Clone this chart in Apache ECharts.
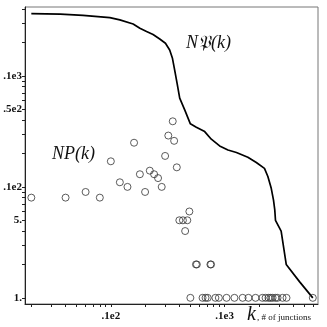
<!DOCTYPE html>
<html>
<head>
<meta charset="utf-8">
<script src="https://cdn.jsdelivr.net/npm/echarts@6/dist/echarts.min.js"></script>
<style>
  html, body { margin: 0; padding: 0; background: #fff; }
  #chart { width: 327px; height: 327px; }
</style>
</head>
<body>
<div id="chart"></div>
<script>
// N(k) curve
const lineK = [2, 3.6, 5.7, 9.8, 12, 15.7, 18, 20.6, 23.5, 26.9, 30.2, 32.9, 34.8, 36.4, 38.2, 40.3, 44.6, 46.1, 50, 56.4, 66.8, 76.4, 90.4, 107, 127, 160, 190, 224, 240, 257, 269, 276, 280, 314, 348, 455, 596];
const lineN = [364, 360, 352, 335, 320, 294, 269, 251, 236, 215, 197, 171, 144, 113, 86, 63, 49.4, 47.7, 37, 34.5, 31.5, 26.9, 23.4, 21.5, 20.4, 18.5, 16.6, 14.7, 12.4, 9.7, 7.6, 6.2, 5.0, 4.0, 2.0, 1.4, 1];

// NP(k) circles
const npK = [2, 4, 6, 8, 10, 12, 14, 16, 18, 20, 22, 24, 26, 28, 30, 32, 35, 36, 38, 40, 43, 45, 47, 49,
  56, 57, 75, 76, 50, 64, 68, 71, 83, 89, 104, 122, 144, 162, 187, 215, 229, 243, 253, 264, 280, 292, 323, 350, 596];
const npVal = [8, 8, 9, 8, 17, 11, 10, 25, 13, 9, 14, 13, 12, 10, 19, 29, 39, 26, 15, 5, 5, 4, 5, 6,
  2, 2, 2, 2, 1, 1, 1, 1, 1, 1, 1, 1, 1, 1, 1, 1, 1, 1, 1, 1, 1, 1, 1, 1, 1];

const xTicks = [2, 3, 4, 5, 6, 7, 8, 9, 10, 20, 30, 40, 50, 60, 70, 80, 90, 100, 200, 300, 400, 500, 600];
const xLabels = { 10: '.1e2', 100: '.1e3' };
const yTicks = [1, 2, 3, 4, 5, 6, 7, 8, 9, 10, 20, 30, 40, 50, 60, 70, 80, 90, 100, 200, 300, 400];
const yLabels = { 1: '1.', 5: '5.', 10: '.1e2', 50: '.5e2', 100: '.1e3' };

const labelFont = {
  fontFamily: 'Liberation Serif', fontWeight: 'bold', fontSize: 11, color: '#111'
};

const chart = echarts.init(document.getElementById('chart'));
chart.setOption({
  animation: false,
  backgroundColor: '#fff',
  grid: { left: 25, right: 9, top: 7, bottom: 23, show: true, borderColor: '#777', borderWidth: 1 },
  xAxis: {
    type: 'log', min: 1.76, max: 662,
    axisLine: { lineStyle: { color: '#222', width: 1 } },
    axisTick: { customValues: xTicks, length: 3, lineStyle: { color: '#222' } },
    axisLabel: Object.assign({
      customValues: Object.keys(xLabels).map(Number), margin: 7,
      formatter: v => xLabels[Math.round(v)] || ''
    }, labelFont),
    splitLine: { show: false }, minorTick: { show: false }
  },
  yAxis: {
    type: 'log', min: 0.88, max: 418,
    axisLine: { lineStyle: { color: '#222', width: 1 } },
    axisTick: { customValues: yTicks, length: 3, lineStyle: { color: '#222' } },
    axisLabel: Object.assign({
      customValues: Object.keys(yLabels).map(Number), margin: 3,
      formatter: v => yLabels[Math.round(v)] || ''
    }, labelFont),
    splitLine: { show: false }, minorTick: { show: false }
  },
  series: [
    {
      type: 'line', data: lineK.map((k, i) => [k, lineN[i]]),
      symbol: 'none', lineStyle: { color: '#000', width: 1.7 }, z: 3
    },
    {
      type: 'scatter', data: npK.map((k, i) => [k, npVal[i]]),
      symbol: 'circle', symbolSize: 7,
      itemStyle: { color: 'rgba(255,255,255,0)', borderColor: '#333', borderWidth: 1 }, z: 4
    }
  ],
  graphic: [
    { type: 'text', left: 186, top: 34, style: { text: 'N\u{1D513}(k)', font: 'italic 18px "Liberation Serif"', fill: '#111' } },
    { type: 'text', left: 52, top: 145, style: { text: 'NP(k)', font: 'italic 18px "Liberation Serif"', fill: '#111' } },
    { type: 'text', left: 247, top: 305, style: { text: 'k', font: 'italic 20px "Liberation Serif"', fill: '#111' } },
    { type: 'text', left: 257, top: 313, style: { text: ', # of junctions', font: '9px "Liberation Serif"', fill: '#111' } }
  ]
});
</script>
</body>
</html>
